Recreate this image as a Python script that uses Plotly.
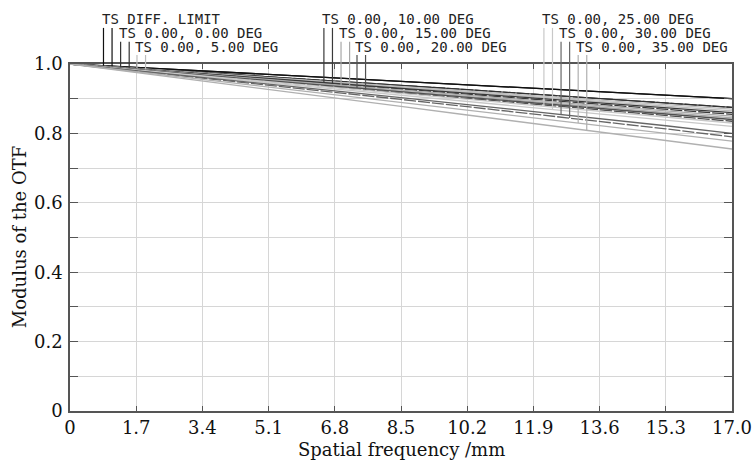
import numpy as np
import plotly.graph_objects as go

# ---- data ----
freq = [0, 1.7, 3.4, 5.1, 6.8, 8.5, 10.2, 11.9, 13.6, 15.3, 17.0]
x_ticktext = ["0", "1.7", "3.4", "5.1", "6.8", "8.5", "10.2", "11.9", "13.6", "15.3", "17.0"]
y_tickvals = [0, 0.1, 0.2, 0.3, 0.4, 0.5, 0.6, 0.7, 0.8, 0.9, 1.0]
y_ticktext = ["0", "", "0.2", "", "0.4", "", "0.6", "", "0.8", "", "1.0"]

diff_T = [1.000, 0.990, 0.980, 0.970, 0.960, 0.950, 0.940, 0.930, 0.920, 0.910, 0.900]
diff_S = [1.000, 0.990, 0.980, 0.970, 0.960, 0.950, 0.940, 0.930, 0.920, 0.910, 0.900]
d0_T = [1.000, 0.988, 0.976, 0.963, 0.951, 0.939, 0.926, 0.913, 0.901, 0.888, 0.875]
d0_S = [1.000, 0.988, 0.976, 0.963, 0.951, 0.939, 0.926, 0.913, 0.901, 0.888, 0.875]
d5_T = [1.000, 0.987, 0.974, 0.961, 0.948, 0.935, 0.922, 0.909, 0.896, 0.883, 0.870]
d5_S = [1.000, 0.987, 0.973, 0.960, 0.946, 0.933, 0.919, 0.906, 0.892, 0.879, 0.865]
d10_T = [1.000, 0.986, 0.972, 0.958, 0.944, 0.930, 0.916, 0.902, 0.888, 0.874, 0.860]
d10_S = [1.000, 0.986, 0.971, 0.957, 0.942, 0.928, 0.913, 0.899, 0.884, 0.869, 0.855]
d15_T = [1.000, 0.985, 0.970, 0.955, 0.940, 0.925, 0.910, 0.895, 0.880, 0.865, 0.850]
d15_S = [1.000, 0.985, 0.969, 0.954, 0.938, 0.922, 0.907, 0.891, 0.875, 0.860, 0.845]
d20_T = [1.000, 0.984, 0.968, 0.952, 0.936, 0.920, 0.904, 0.888, 0.872, 0.856, 0.840]
d20_S = [1.000, 0.983, 0.967, 0.950, 0.934, 0.917, 0.901, 0.884, 0.868, 0.851, 0.835]
d25_T = [1.000, 0.983, 0.966, 0.949, 0.932, 0.915, 0.898, 0.881, 0.864, 0.847, 0.830]
d25_S = [1.000, 0.982, 0.964, 0.946, 0.928, 0.910, 0.892, 0.874, 0.856, 0.838, 0.820]
d30_T = [1.000, 0.981, 0.962, 0.942, 0.923, 0.903, 0.883, 0.863, 0.843, 0.822, 0.800]
d30_S = [1.000, 0.980, 0.960, 0.939, 0.919, 0.898, 0.877, 0.856, 0.835, 0.813, 0.790]
d35_T = [1.000, 0.978, 0.956, 0.934, 0.912, 0.890, 0.867, 0.845, 0.823, 0.800, 0.778]
d35_S = [1.000, 0.976, 0.951, 0.927, 0.902, 0.878, 0.853, 0.829, 0.804, 0.780, 0.755]

labels = ["TS DIFF. LIMIT", "TS 0.00, 0.00 DEG", "TS 0.00, 5.00 DEG",
          "TS 0.00, 10.00 DEG", "TS 0.00, 15.00 DEG", "TS 0.00, 20.00 DEG",
          "TS 0.00, 25.00 DEG", "TS 0.00, 30.00 DEG", "TS 0.00, 35.00 DEG"]
series_T = [diff_T, d0_T, d5_T, d10_T, d15_T, d20_T, d25_T, d30_T, d35_T]
series_S = [diff_S, d0_S, d5_S, d10_S, d15_S, d20_S, d25_S, d30_S, d35_S]
colors = ["#111111", "#333333", "#bdbdbd", "#3a3a3a", "#a8a8a8", "#505050", "#c8c8c8", "#666666", "#b0b0b0"]
s_dash = ["solid", "12px,2px", "solid", "12px,2px", "solid", "12px,2px", "solid", "12px,2px", "solid"]
# leader line x (data units) for T line of each label; S line is one character to the right
leader_T_x = [0.86, 1.30, 1.72, 6.52, 6.96, 7.37, 12.17, 12.61, 13.05]
leader_S_dx = 0.22
label_rows = [0, 1, 2, 0, 1, 2, 0, 1, 2]

# ---- figure ----
fig = go.Figure()
for T, S, c, dsh in zip(series_T, series_S, colors, s_dash):
    fig.add_trace(go.Scatter(x=freq, y=T, mode="lines", line=dict(color=c, width=1.3),
                             showlegend=False, hoverinfo="skip"))
    fig.add_trace(go.Scatter(x=freq, y=S, mode="lines", line=dict(color=c, width=1.3, dash=dsh),
                             showlegend=False, hoverinfo="skip"))

row_text_y = [1.130, 1.090, 1.050]
row_line_top = [1.104, 1.064, 1.026]
shapes = []
annotations = []
for lab, T, S, c, lx, r in zip(labels, series_T, series_S, colors, leader_T_x, label_rows):
    for xx, ser in ((lx, T), (lx + leader_S_dx, S)):
        yb = float(np.interp(xx, freq, ser))
        shapes.append(dict(type="line", xref="x", yref="paper", x0=xx, x1=xx,
                           y0=yb, y1=row_line_top[r], line=dict(color=c, width=1.2)))
    annotations.append(dict(text=lab, xref="x", yref="paper", x=lx - 0.10, y=row_text_y[r],
                            xanchor="left", yanchor="middle", showarrow=False,
                            font=dict(family="DejaVu Sans Mono", size=14, color="#222222")))

# axis titles as annotations (fixed positions)
annotations.append(dict(text="Spatial frequency /mm", xref="paper", yref="paper", x=0.5, y=-0.112,
                        xanchor="center", yanchor="middle", showarrow=False,
                        font=dict(family="DejaVu Serif", size=18, color="#111111")))
annotations.append(dict(text="Modulus of the OTF", xref="paper", yref="paper", x=-0.076, y=0.5,
                        xanchor="center", yanchor="middle", showarrow=False, textangle=-90,
                        font=dict(family="DejaVu Serif", size=18, color="#111111")))

axis_common = dict(showline=True, linecolor="#555555", linewidth=1.5, mirror="ticks",
                   ticks="inside", tickcolor="#555555", showgrid=True, automargin=False,
                   gridcolor="#d6d6d6", gridwidth=1, zeroline=False, ticklabeloverflow="allow",
                   tickfont=dict(family="DejaVu Serif", size=18, color="#111111"))

fig.update_layout(
    width=752, height=461,
    margin=dict(l=70, r=20, t=64, b=50, autoexpand=False),
    plot_bgcolor="white", paper_bgcolor="white",
    xaxis=dict(range=[0, 17], tickvals=freq, ticktext=x_ticktext, ticklen=5,
               **axis_common),
    yaxis=dict(range=[0, 1], tickvals=y_tickvals, ticktext=y_ticktext, ticklen=8,
               ticklabelstandoff=2, **axis_common),
    shapes=shapes, annotations=annotations, showlegend=False,
)

# remove the page's default body margin so the 752x461 figure fills the window exactly
fig.write_html("out.html", config={"displayModeBar": False},
               post_script="document.body.style.margin='0';document.body.style.overflow='hidden';")
